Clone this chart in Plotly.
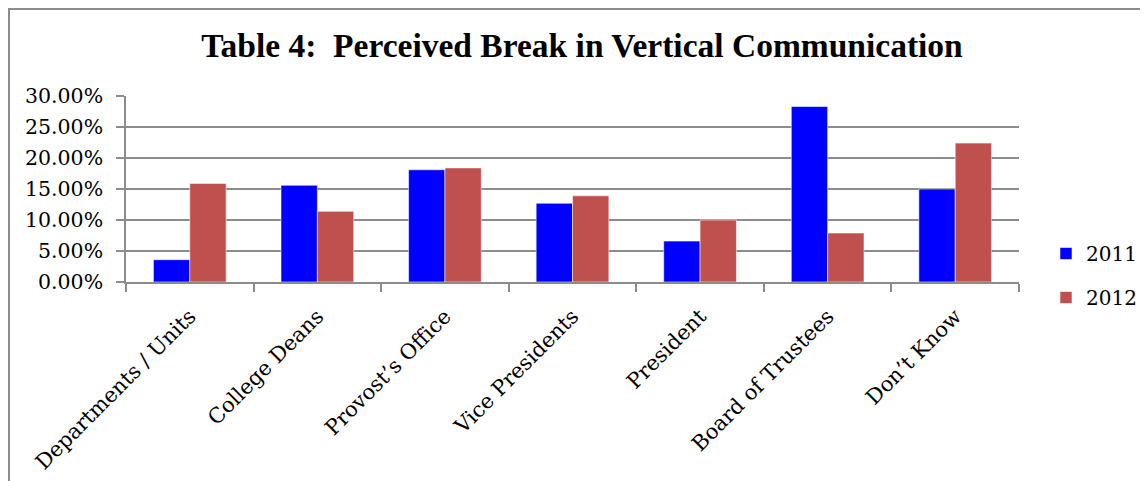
import plotly.graph_objects as go

categories = ["Departments / Units", "College Deans", "Provost\u2019s Office",
              "Vice Presidents", "President", "Board of Trustees", "Don\u2019t Know"]
values_2011 = [0.036, 0.156, 0.181, 0.127, 0.066, 0.283, 0.150]
values_2012 = [0.159, 0.114, 0.184, 0.139, 0.100, 0.079, 0.224]
series_names = ["2011", "2012"]
colors = ["#0000FF", "#C0504D"]

# page body has an 8px margin; figure sized to fit the 1148x481 window
OFF = 8
W, H = 1148 - OFF, 481 - OFF
L, T = 126 - OFF, 96 - OFF
pw, ph = 893, 186
R = W - L - pw
B = H - T - ph

def px_x(sx):
    return (sx - OFF - L) / pw

def px_y(sy):
    return (H - B - (sy - OFF)) / ph

fig = go.Figure()
for name, vals, col in zip(series_names, [values_2011, values_2012], colors):
    fig.add_trace(go.Bar(
        x=categories, y=vals, name=name, legendgroup=name,
        marker=dict(color=col, line=dict(color="rgba(255,255,255,0.55)", width=1)),
    ))

font_serif = "DejaVu Serif"
fig.update_layout(
    width=W, height=H,
    margin=dict(l=L, r=R, t=T, b=B, pad=0, autoexpand=False),
    paper_bgcolor="white", plot_bgcolor="white",
    barmode="group", bargap=0.43, bargroupgap=0,
    title=dict(
        text="<b>Table 4:  Perceived Break in Vertical Communication</b>",
        font=dict(family="Liberation Serif", size=33.5, color="black"),
        x=(582 - OFF) / W, xref="container", xanchor="center",
        y=1 - (45 - OFF) / H, yref="container", yanchor="middle",
    ),
    legend=dict(
        x=px_x(1046), xanchor="left",
        y=px_y(275.5), yanchor="middle",
        font=dict(family=font_serif, size=20, color="black"),
        traceorder="grouped", tracegroupgap=15,
        bgcolor="rgba(0,0,0,0)",
    ),
    showlegend=True,
)
fig.update_yaxes(
    range=[0, 0.30], dtick=0.05, tick0=0, tickformat=".2%",
    showgrid=True, gridcolor="#8c8c8c", gridwidth=1.5,
    showline=True, linecolor="#8c8c8c", linewidth=1.5,
    ticks="outside", ticklen=8, tickcolor="#8c8c8c", tickwidth=1.5,
    tickfont=dict(family=font_serif, size=20.5, color="black"),
    ticklabelstandoff=9,
    zeroline=False, fixedrange=True, automargin=False,
)
fig.update_xaxes(
    showgrid=False, showline=True, linecolor="#8c8c8c", linewidth=1.5,
    ticks="outside", ticklen=8, tickcolor="#8c8c8c", tickwidth=1.5,
    tickson="boundaries", tickangle=-45,
    tickfont=dict(family=font_serif, size=21, color="black"),
    ticklabelstandoff=12,
    fixedrange=True, automargin=False,
)
# outer chart border (drawn just inside the figure area)
fig.add_shape(type="rect", xref="paper", yref="paper",
              x0=px_x(9), x1=px_x(1170), y0=px_y(500), y1=px_y(9),
              line=dict(color="#8c8c8c", width=2), fillcolor="rgba(0,0,0,0)", layer="below")

fig.write_html("out.html")
